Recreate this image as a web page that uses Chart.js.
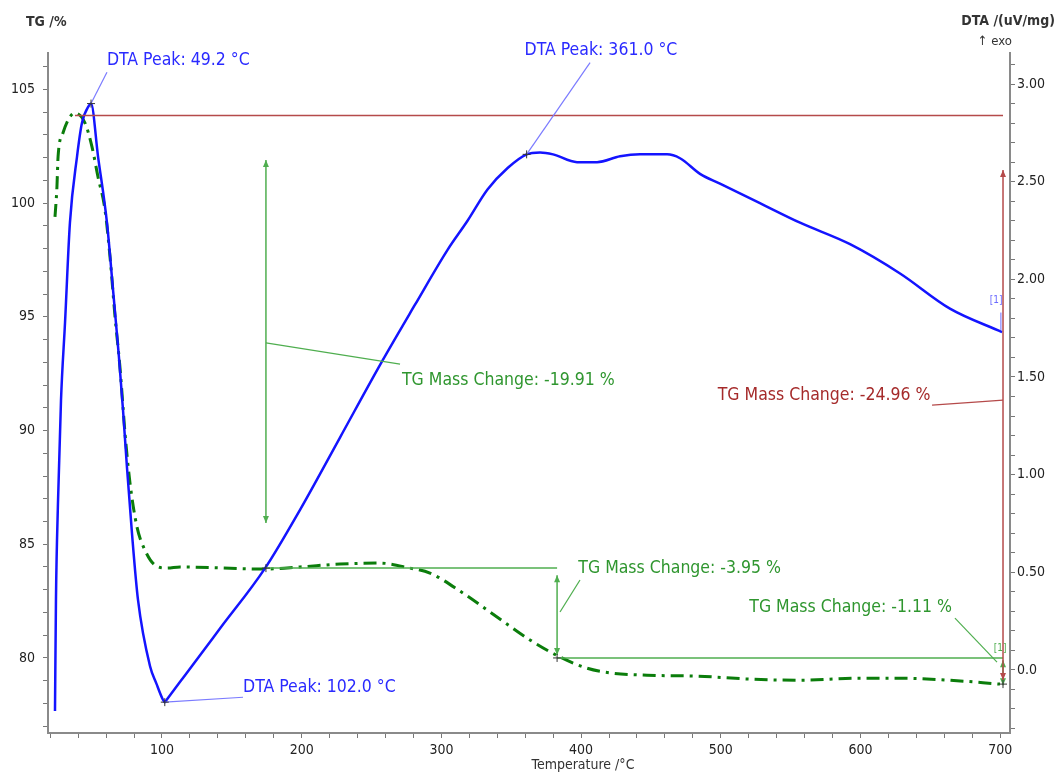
<!DOCTYPE html>
<html>
<head>
<meta charset="utf-8">
<script src="https://cdn.jsdelivr.net/npm/chart.js@4.4.1/dist/chart.umd.min.js"></script>
<style>
  html, body { margin: 0; padding: 0; background: #fff; }
  #wrap { width: 1057px; height: 774px; }
</style>
</head>
<body>
<div id="wrap"><canvas id="myChart" width="1057" height="774"></canvas></div>
<script>
// DTA curve (right axis, uV/mg)
const dtaTemp = [23.4, 24.1, 25.6, 27.7, 30.6, 34.1, 39.2, 42.7, 47.7, 49.2, 54.2, 60.6, 64.9, 69.2, 72.1, 74.9, 78.5, 82.8, 91.4, 96.0, 100.5, 102.0, 103.5, 116.5, 141.5, 173.7, 198.8, 227.4, 257.5, 281.1, 304.3, 318.7, 333.0, 347.4, 361.0, 370.6, 379.9, 397.1, 411.4, 427.9, 442.2, 461.5, 470.8, 485.1, 499.4, 528.0, 556.7, 592.5, 628.3, 664.0, 701.3];
const dtaValues = [-0.21, 0.36, 0.87, 1.38, 1.78, 2.29, 2.63, 2.80, 2.89, 2.90, 2.63, 2.29, 1.95, 1.60, 1.33, 1.04, 0.70, 0.36, 0.02, -0.07, -0.15, -0.165, -0.151, -0.027, 0.212, 0.52, 0.82, 1.19, 1.58, 1.87, 2.15, 2.30, 2.46, 2.57, 2.64, 2.65, 2.64, 2.60, 2.60, 2.63, 2.64, 2.64, 2.62, 2.54, 2.49, 2.39, 2.29, 2.18, 2.03, 1.85, 1.73];

// TG curve (left axis, %)
const tgTemp = [23.4, 24.8, 25.6, 29.1, 34.1, 37.7, 44.9, 49.9, 54.2, 59.2, 62.8, 66.4, 69.9, 72.1, 73.5, 77.1, 82.1, 87.8, 95.0, 103.6, 112.9, 173.7, 198.8, 227.4, 256.1, 277.5, 291.8, 315.5, 339.8, 363.4, 384.9, 404.2, 422.8, 447.2, 483.0, 520.9, 556.7, 599.6, 628.3, 664.1, 699.8];
const tgValues = [99.39, 100.71, 102.03, 103.08, 103.79, 103.96, 103.52, 102.47, 101.15, 99.70, 97.63, 94.99, 92.79, 91.03, 89.89, 87.69, 85.76, 84.74, 84.08, 83.95, 84.00, 83.91, 84.00, 84.13, 84.17, 83.95, 83.73, 82.85, 81.80, 80.79, 80.04, 79.55, 79.33, 79.24, 79.20, 79.07, 79.02, 79.11, 79.11, 79.02, 78.85];

// tick labels
const tempTickLabels = [100, 200, 300, 400, 500, 600, 700];
const tgTickLabels = [80, 85, 90, 95, 100, 105];
const dtaTickLabels = ["0.0", "0.50", "1.00", "1.50", "2.00", "2.50", "3.00"];

// evaluation marks, in axis units
const dtaPeaks = [
  { text: "DTA Peak: 49.2 °C", peak: [49.2, 2.90], end: [60.6, 3.06], label: [60.6, 3.12], align: "left" },
  { text: "DTA Peak: 361.0 °C", peak: [361.0, 2.64], end: [406.4, 3.11], label: [414.2, 3.17], align: "center" },
  { text: "DTA Peak: 102.0 °C", peak: [102.0, -0.165], end: [158.0, -0.14], label: [158.0, -0.09], align: "left" }
];
const tgSteps = [
  { text: "TG Mass Change: -19.91 %", x: 174.4, top: 101.9, bottom: 85.93, lead: [[174.4, 93.85], [270.4, 92.92]], label: [271.8, 92.22], align: "left", red: false },
  { text: "TG Mass Change: -3.95 %", x: 382.8, top: 83.64, bottom: 80.13, lead: [[384.9, 82.02], [399.2, 83.43]], label: [398.0, 83.95], align: "left", red: false },
  { text: "TG Mass Change: -1.11 %", x: 702.0, top: 79.9, bottom: 78.8, lead: [[667.6, 81.75], [697.7, 79.82]], label: [665.5, 82.24], align: "right", red: false },
  { text: "TG Mass Change: -24.96 %", x: 702.0, top: 101.46, bottom: 79.03, lead: [[651.2, 91.12], [682.0, 91.25], [702.0, 91.34]], label: [650.1, 91.56], align: "right", red: true }
];
const tgLevels = [
  { y: 103.85, x0: 37.7, x1: 702.0, red: true },
  { y: 83.95, x0: 174.4, x1: 382.8, red: false },
  { y: 80.0, x0: 382.8, x1: 702.0, red: false }
];

const tickFont = { family: "'DejaVu Sans Condensed', 'DejaVu Sans', sans-serif", size: 14 };
const noteFont = "17.5px 'DejaVu Sans Condensed', 'DejaVu Sans', sans-serif";

document.addEventListener("DOMContentLoaded", function () {
  let ctx = document.getElementById("myChart").getContext("2d");

  function range(a, b, step) {
    const out = [];
    for (let v = a; v <= b + 1e-9; v += step) out.push({ value: Math.round(v * 100) / 100 });
    return out;
  }

  function arrowHead(c, x, y, dir, color) {
    c.fillStyle = color;
    c.beginPath();
    c.moveTo(x, y);
    c.lineTo(x - 3, y - dir * 7);
    c.lineTo(x + 3, y - dir * 7);
    c.closePath();
    c.fill();
  }

  function cross(c, x, y) {
    c.strokeStyle = "#333";
    c.lineWidth = 1;
    c.beginPath();
    c.moveTo(x - 4, y); c.lineTo(x + 4, y);
    c.moveTo(x, y - 4); c.lineTo(x, y + 4);
    c.stroke();
  }

  const notesPlugin = {
    id: "notes",
    afterDatasetsDraw(chart) {
      const c = chart.ctx;
      const sx = chart.scales.x, tg = chart.scales.yTG, dta = chart.scales.yDTA;
      const green = "#4fae4f", greenText = "#2f962f", red = "#b54a4a", redText = "#a52a2a";
      c.save();
      c.textBaseline = "middle";
      c.font = noteFont;

      tgLevels.forEach(function (l) {
        c.strokeStyle = l.red ? red : green;
        c.lineWidth = 1.5;
        c.beginPath();
        c.moveTo(sx.getPixelForValue(l.x0), tg.getPixelForValue(l.y));
        c.lineTo(sx.getPixelForValue(l.x1), tg.getPixelForValue(l.y));
        c.stroke();
      });

      tgSteps.forEach(function (s) {
        const col = s.red ? red : green;
        const x = sx.getPixelForValue(s.x);
        const y0 = tg.getPixelForValue(s.top), y1 = tg.getPixelForValue(s.bottom);
        c.strokeStyle = col;
        c.lineWidth = 1.5;
        c.beginPath();
        c.moveTo(x, y0); c.lineTo(x, y1);
        c.stroke();
        arrowHead(c, x, y0, -1, col);
        arrowHead(c, x, y1, 1, col);
        c.lineWidth = 1.2;
        c.beginPath();
        s.lead.forEach(function (p, i) {
          const px = sx.getPixelForValue(p[0]), py = tg.getPixelForValue(p[1]);
          if (i === 0) c.moveTo(px, py); else c.lineTo(px, py);
        });
        c.stroke();
        c.fillStyle = s.red ? redText : greenText;
        c.textAlign = s.align;
        c.fillText(s.text, sx.getPixelForValue(s.label[0]), tg.getPixelForValue(s.label[1]));
      });

      dtaPeaks.forEach(function (p) {
        c.strokeStyle = "#7b7bff";
        c.lineWidth = 1.2;
        c.beginPath();
        c.moveTo(sx.getPixelForValue(p.peak[0]), dta.getPixelForValue(p.peak[1]));
        c.lineTo(sx.getPixelForValue(p.end[0]), dta.getPixelForValue(p.end[1]));
        c.stroke();
        cross(c, sx.getPixelForValue(p.peak[0]), dta.getPixelForValue(p.peak[1]));
        c.fillStyle = "#2a2aff";
        c.textAlign = p.align;
        c.fillText(p.text, sx.getPixelForValue(p.label[0]), dta.getPixelForValue(p.label[1]));
      });

      cross(c, sx.getPixelForValue(174.4), tg.getPixelForValue(83.95));
      cross(c, sx.getPixelForValue(382.8), tg.getPixelForValue(80.0));
      cross(c, sx.getPixelForValue(702.0), tg.getPixelForValue(78.85));

      // segment markers
      c.font = "10px 'DejaVu Sans Condensed', sans-serif";
      c.textAlign = "center";
      c.fillStyle = "#6a6aff";
      c.fillText("[1]", sx.getPixelForValue(697), dta.getPixelForValue(1.89));
      c.strokeStyle = "#6a6aff";
      c.lineWidth = 1;
      c.beginPath();
      c.moveTo(sx.getPixelForValue(700.5), dta.getPixelForValue(1.83));
      c.lineTo(sx.getPixelForValue(700.5), dta.getPixelForValue(1.74));
      c.stroke();
      c.fillStyle = "#4fae4f";
      c.fillText("[1]", sx.getPixelForValue(700), tg.getPixelForValue(80.4));
      c.restore();
    },
    afterDraw(chart) {
      const c = chart.ctx;
      c.save();
      c.fillStyle = "#333";
      c.textBaseline = "middle";
      c.font = "bold 14px 'DejaVu Sans Condensed', sans-serif";
      c.textAlign = "left";
      c.fillText("TG /%", 26, 22);
      c.textAlign = "right";
      c.fillText("DTA /(uV/mg)", 1055, 21);
      c.font = "13px 'DejaVu Sans Condensed', sans-serif";
      c.fillText("\u2191 exo", 1012, 42);
      c.textAlign = "center";
      c.font = "14px 'DejaVu Sans Condensed', sans-serif";
      c.fillText("Temperature /\u00B0C", 583, 765);
      c.restore();
    }
  };

  const axisGrid = { drawOnChartArea: false, drawTicks: true, tickLength: 5, color: "#777", lineWidth: 1 };
  const axisBorder = { display: true, color: "#8a8a8a", width: 2 };

  let myChart = new Chart(ctx, {
    type: "line",
    data: {
      datasets: [
        {
          label: "DTA",
          data: dtaTemp.map((t, i) => ({ x: t, y: dtaValues[i] })),
          yAxisID: "yDTA",
          borderColor: "#1414ff",
          borderWidth: 2.5,
          pointRadius: 0,
          cubicInterpolationMode: "monotone",
          fill: false
        },
        {
          label: "TG",
          data: tgTemp.map((t, i) => ({ x: t, y: tgValues[i] })),
          yAxisID: "yTG",
          borderColor: "#0b7d0b",
          borderWidth: 3,
          borderDash: [13, 6, 3, 6],
          pointRadius: 0,
          cubicInterpolationMode: "monotone",
          fill: false
        }
      ]
    },
    options: {
      responsive: false,
      animation: false,
      layout: { padding: { top: 53, left: 0, right: 0, bottom: 0 } },
      plugins: { legend: { display: false }, tooltip: { enabled: false } },
      scales: {
        x: {
          type: "linear",
          min: 18.4,
          max: 707,
          afterBuildTicks: (s) => { s.ticks = range(20, 700, 20); },
          afterFit: (s) => { s.height = 41; },
          ticks: {
            autoSkip: false,
            maxRotation: 0,
            padding: 4,
            color: "#222",
            font: tickFont,
            callback: (v) => (tempTickLabels.includes(v) ? String(v) : "")
          },
          grid: axisGrid,
          border: axisBorder
        },
        yTG: {
          type: "linear",
          position: "left",
          min: 76.7,
          max: 106.6,
          afterBuildTicks: (s) => { s.ticks = range(77, 106, 1); },
          afterFit: (s) => { s.width = 48; },
          ticks: {
            autoSkip: false,
            padding: 8,
            color: "#222",
            font: tickFont,
            callback: (v) => (tgTickLabels.includes(v) ? String(v) : "")
          },
          grid: axisGrid,
          border: axisBorder
        },
        yDTA: {
          type: "linear",
          position: "right",
          min: -0.323,
          max: 3.159,
          afterBuildTicks: (s) => { s.ticks = range(-0.3, 3.1, 0.1); },
          afterFit: (s) => { s.width = 47; },
          ticks: {
            autoSkip: false,
            padding: 2,
            color: "#222",
            font: tickFont,
            callback: (v) => {
              const k = Math.round(v * 10);
              return k >= 0 && k % 5 === 0 ? dtaTickLabels[k / 5] : "";
            }
          },
          grid: axisGrid,
          border: axisBorder
        }
      }
    },
    plugins: [notesPlugin]
  });
});
</script>
</body>
</html>
